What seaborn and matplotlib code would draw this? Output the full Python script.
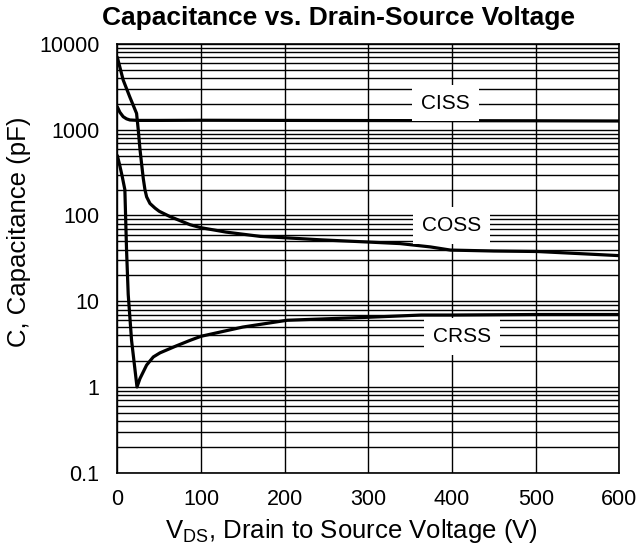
import numpy as np
import pandas as pd
import matplotlib
matplotlib.use("Agg")
import matplotlib.pyplot as plt
from matplotlib.ticker import LogLocator, FuncFormatter, MultipleLocator, NullFormatter
import seaborn as sns

# ==============================
# DATA
# ==============================

ciss_v = [0, 3, 7, 11, 15, 25, 50, 100, 200, 300, 400, 500, 600]
ciss_c = [1850, 1600, 1420, 1340, 1300, 1285, 1285, 1290, 1285, 1280, 1275, 1272, 1265]

coss_v = [0, 7, 15, 23, 25, 27, 29, 31, 33, 35, 39, 45, 50, 63, 87, 100, 130, 171, 200,
          243, 300, 338, 374, 398, 450, 502, 550, 600]
coss_c = [7000, 3800, 2400, 1550, 1000, 600, 400, 270, 200, 165, 138, 122, 112, 97, 78, 72, 64, 57, 55,
          52, 49, 47, 43, 39.5, 38.5, 38, 36, 34]

crss_v = [0, 3, 6, 9, 11, 13, 17, 23.5, 27, 35, 43, 51, 70, 87, 100, 150, 203, 300, 363, 400, 500, 600]
crss_c = [500, 380, 280, 200, 40, 12, 3.5, 1.0, 1.25, 1.8, 2.24, 2.5, 3.0, 3.5, 3.9, 5.0, 6.0, 6.5, 6.9, 6.9, 7.0, 7.0]

labels = ["CISS", "COSS", "CRSS"]
label_v = [392, 399, 412]
label_c = [2050, 77, 3.85]

x_ticks = [0, 100, 200, 300, 400, 500, 600]
y_ticks = [0.1, 1, 10, 100, 1000, 10000]

# ==============================
# PLOT
# ==============================

sns.set_style("white")
plt.rcParams["font.family"] = ["Liberation Sans", "DejaVu Sans"]
plt.rcParams["text.color"] = "black"
plt.rcParams["axes.labelcolor"] = "black"
plt.rcParams["xtick.color"] = "black"
plt.rcParams["ytick.color"] = "black"

fig = plt.figure(figsize=(6.38, 5.48), dpi=100)
ax = fig.add_axes([0.1839, 0.1374, 0.7871, 0.7823])

for v, c in [(ciss_v, ciss_c), (coss_v, coss_c), (crss_v, crss_c)]:
    sns.lineplot(x=v, y=c, ax=ax, color="black", linewidth=2.3, sort=False, zorder=3)

ax.set_yscale("log")
ax.set_xlim(0, 600)
ax.set_ylim(0.1, 10000)

ax.xaxis.set_major_locator(MultipleLocator(100))
ax.set_xticks(x_ticks)
ax.set_yticks(y_ticks)
ax.yaxis.set_minor_locator(LogLocator(base=10, subs=range(2, 10)))
ax.yaxis.set_minor_formatter(NullFormatter())
ax.yaxis.set_major_formatter(FuncFormatter(lambda y, p: "%g" % y))

ax.grid(True, which="both", axis="y", color="black", linewidth=1.0)
ax.grid(True, which="major", axis="x", color="black", linewidth=1.0)
ax.set_axisbelow(True)

for s in ax.spines.values():
    s.set_color("black")
    s.set_linewidth(1.2)

ax.tick_params(axis="both", which="both", length=0, labelsize=15.5, colors="black")
ax.tick_params(axis="x", pad=12)
ax.tick_params(axis="y", pad=13)

for name, v, c in zip(labels, label_v, label_c):
    ax.text(v, c, name, fontsize=15, ha="center", va="center", zorder=4, color="black",
            bbox=dict(facecolor="white", edgecolor="none", pad=6.5))

# title and axis labels sit a little off the axes centre in the original
fig.text(0.531, 0.9544, "Capacitance vs. Drain-Source Voltage", fontsize=19,
         fontweight="bold", ha="center", va="baseline")
ax.set_xlabel(r"V$_{\mathregular{DS}}$, Drain to Source Voltage (V)", fontsize=18.5, labelpad=5)
ax.set_ylabel("C, Capacitance (pF)", fontsize=18.5, labelpad=6)
ax.xaxis.label.set_x(0.467)
ax.yaxis.label.set_y(0.561)

fig.savefig("out.png", dpi=100, facecolor="white")
